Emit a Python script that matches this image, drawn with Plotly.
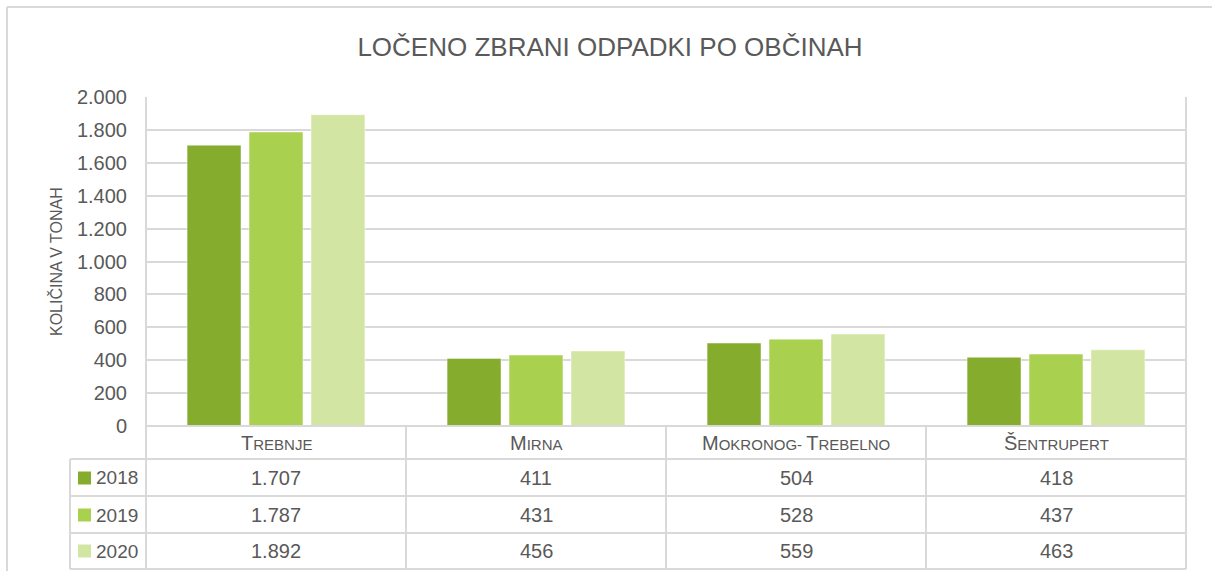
import plotly.graph_objects as go

categories = ["Trebnje", "Mirna", "Mokronog- Trebelno", "Šentrupert"]
years = ["2018", "2019", "2020"]
values_2018 = [1707, 411, 504, 418]
values_2019 = [1787, 431, 528, 437]
values_2020 = [1892, 456, 559, 463]
y_ticks = [0, 200, 400, 600, 800, 1000, 1200, 1400, 1600, 1800, 2000]

series = [values_2018, values_2019, values_2020]
colors = ["#86AC2E", "#AAD04F", "#D3E5A3"]

FONT = "Liberation Sans Narrow, Arial Narrow, Liberation Sans, Arial, sans-serif"
TXT = "#595959"
GRID = "#D9D9D9"

W, H = 1212, 571
L, R, T, B = 146, 1186, 97, 426


def px(xp):
    return (xp - L) / (R - L)


def py(yp):
    return (B - yp) / (B - T)


def fmt(v):
    return f"{v:,}".replace(",", ".")


def small_caps(name, big=20, small=15):
    out = []
    for ch in name:
        if ch.isupper():
            out.append(f"<span style='font-size:{big}px'>{ch}</span>")
        elif ch.islower():
            out.append(f"<span style='font-size:{small}px'>{ch.upper()}</span>")
        else:
            out.append(f"<span style='font-size:{small}px'>{ch}</span>")
    return "".join(out)


fig = go.Figure()
for yr, vals, col in zip(years, series, colors):
    fig.add_trace(go.Bar(
        x=categories, y=vals, name=yr,
        marker=dict(color=col, line=dict(color="rgba(255,255,255,0.45)", width=1)),
        showlegend=False,
    ))

shapes = []
line = dict(color=GRID, width=2)
# plot box verticals
shapes.append(dict(type="line", xref="paper", yref="paper", x0=0, x1=0, y0=1, y1=py(569), line=line))
shapes.append(dict(type="line", xref="paper", yref="paper", x0=1, x1=1, y0=1, y1=py(569), line=line))
# table horizontal lines
for yy, x0 in [(426, 0), (459, px(70)), (496, px(70)), (533, px(70)), (569, px(70))]:
    shapes.append(dict(type="line", xref="paper", yref="paper", x0=x0, x1=1, y0=py(yy), y1=py(yy), line=line))
# table left vertical
shapes.append(dict(type="line", xref="paper", yref="paper", x0=px(70), x1=px(70), y0=py(459), y1=py(569), line=line))
# category separators
for i in range(len(categories) - 1):
    shapes.append(dict(type="line", xref="x", yref="paper", x0=i + 0.5, x1=i + 0.5, y0=0, y1=py(569), line=line))
# outer chart border
shapes.append(dict(type="line", xref="paper", yref="paper", x0=px(7), x1=px(7), y0=py(7), y1=py(575), line=line))
shapes.append(dict(type="line", xref="paper", yref="paper", x0=px(7), x1=px(1215), y0=py(7), y1=py(7), line=line))

annotations = []
# header row
for c in categories:
    annotations.append(dict(x=c, xref="x", y=py(443), yref="paper", text=small_caps(c),
                            showarrow=False, font=dict(family=FONT, color=TXT, size=20),
                            xanchor="center", yanchor="middle"))
row_centers = [478, 515, 551]
for yr, vals, col, rc in zip(years, series, colors, row_centers):
    shapes.append(dict(type="rect", xref="paper", yref="paper", x0=px(78), x1=px(91),
                       y0=py(rc - 6.5), y1=py(rc + 6.5), fillcolor=col, line=dict(width=0)))
    annotations.append(dict(x=px(94), xref="paper", y=py(rc), yref="paper", text=yr,
                            showarrow=False, font=dict(family=FONT, color=TXT, size=19),
                            xanchor="left", yanchor="middle"))
    for c, v in zip(categories, vals):
        annotations.append(dict(x=c, xref="x", y=py(rc), yref="paper", text=fmt(v),
                                showarrow=False, font=dict(family=FONT, color=TXT, size=20),
                                xanchor="center", yanchor="middle"))
# y axis title
annotations.append(dict(x=px(56), xref="paper", y=py(262), yref="paper", text="KOLIČINA V TONAH",
                        textangle=-90, showarrow=False, font=dict(family=FONT, color=TXT, size=16),
                        xanchor="center", yanchor="middle"))

fig.update_layout(
    width=W, height=H,
    margin=dict(l=L, r=W - R, t=T, b=H - B, pad=0),
    paper_bgcolor="white", plot_bgcolor="white",
    separators=",.",
    barmode="group", bargap=0.285, bargroupgap=0.13,
    title=dict(text="LOČENO ZBRANI ODPADKI PO OBČINAH", x=610 / W,
               xanchor="center", y=1 - 47 / H, yanchor="middle", yref="container",
               font=dict(family=FONT, color=TXT, size=26)),
    xaxis=dict(showticklabels=False, showgrid=False, zeroline=False, showline=False, ticks=""),
    yaxis=dict(range=[0, 2000], tickvals=y_ticks, tickformat=",d", showgrid=True, gridcolor=GRID,
               gridwidth=2, zeroline=False, showline=False, ticks="", ticklabelstandoff=18,
               tickfont=dict(family=FONT, color=TXT, size=20)),
    shapes=shapes, annotations=annotations,
    font=dict(family=FONT, color=TXT),
)

fig.write_html("out.html", config={"displayModeBar": False},
               post_script="document.body.style.margin='0';")
